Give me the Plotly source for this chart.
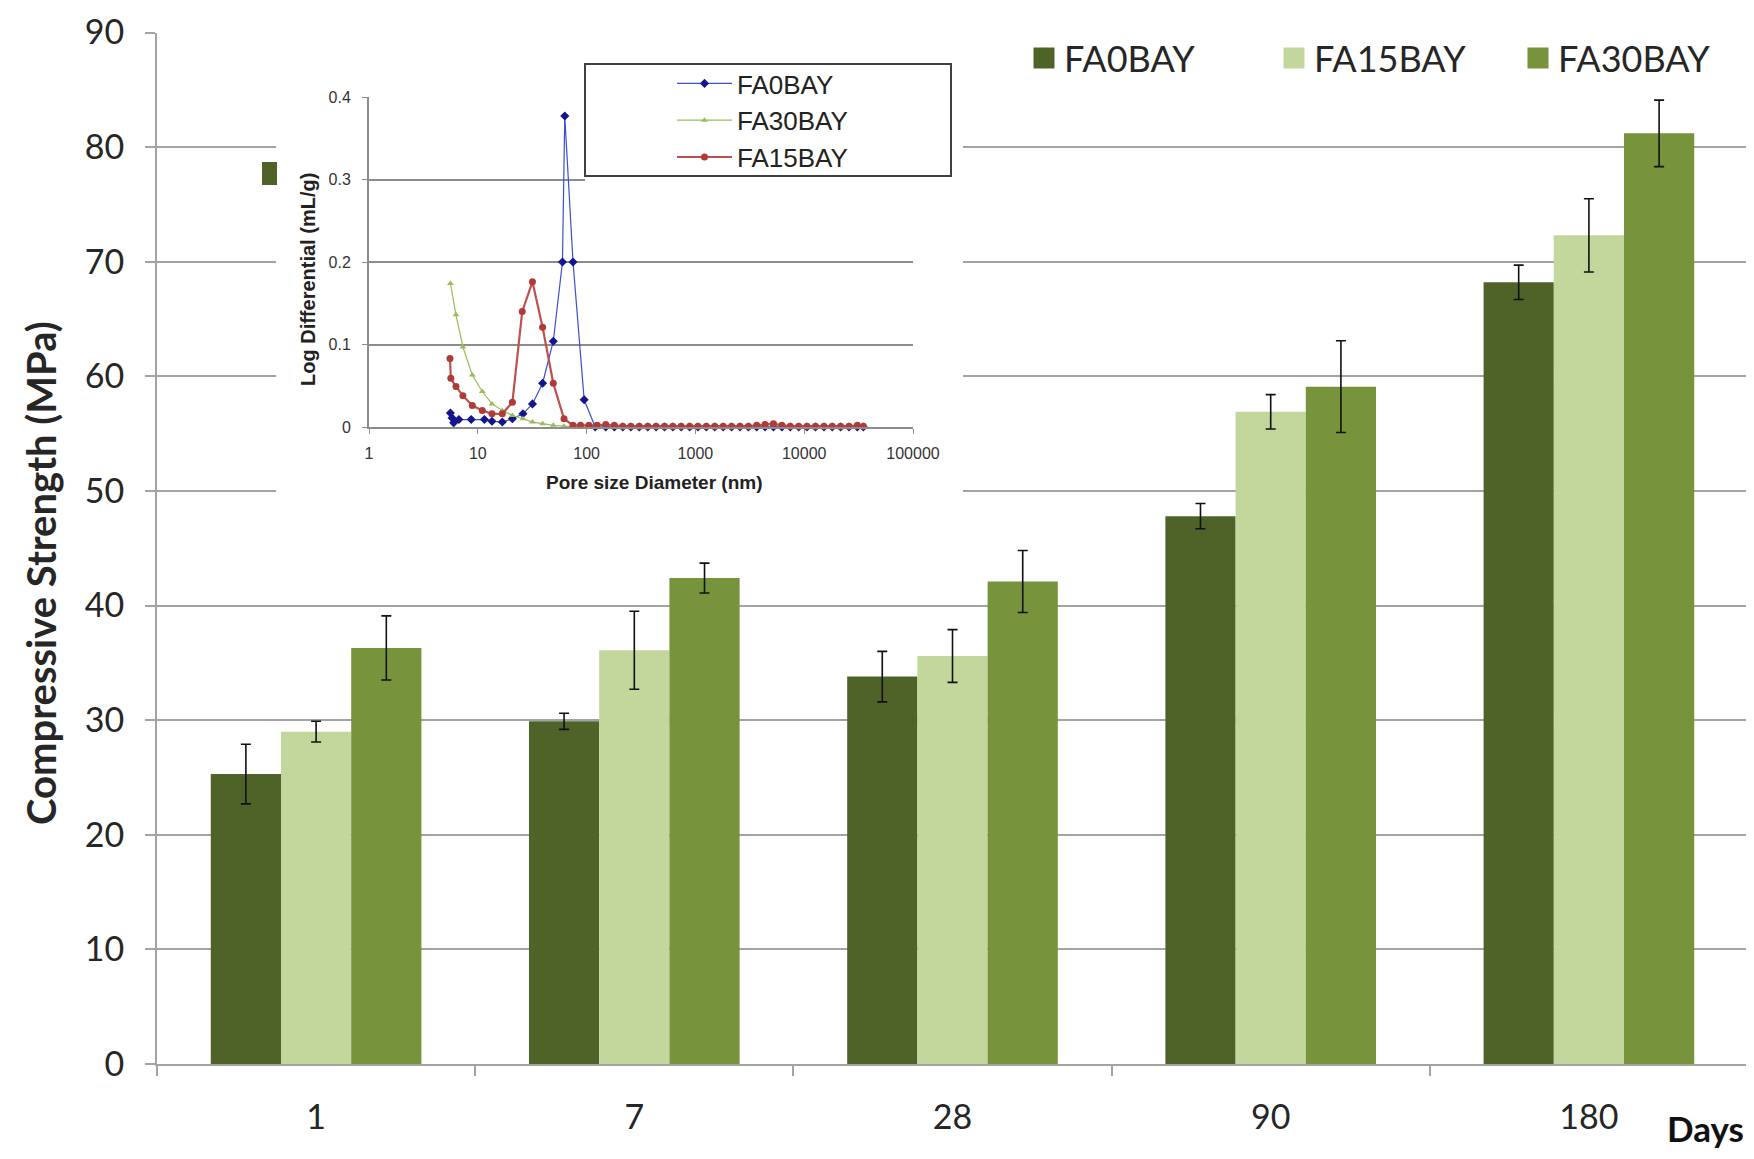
import plotly.graph_objects as go

# ---------------- data ----------------
days = ["1", "7", "28", "90", "180"]
series_names = ["FA0BAY", "FA15BAY", "FA30BAY"]
fa0 = [25.3, 29.9, 33.8, 47.8, 68.2]
fa0_err = [2.6, 0.7, 2.2, 1.1, 1.5]
fa15 = [29.0, 36.1, 35.6, 56.9, 72.3]
fa15_err = [0.9, 3.4, 2.3, 1.5, 3.2]
fa30 = [36.3, 42.4, 42.1, 59.1, 81.2]
fa30_err = [2.8, 1.3, 2.7, 4.0, 2.9]

y_ticks = [0, 10, 20, 30, 40, 50, 60, 70, 80, 90]

# inset: pore size distribution
inset_x_ticks = [1, 10, 100, 1000, 10000, 100000]
inset_x_labels = ["1", "10", "100", "1000", "10000", "100000"]
inset_y_ticks = [0, 0.1, 0.2, 0.3, 0.4]
inset_y_labels = ["0", "0.1", "0.2", "0.3", "0.4"]

tail_x = [88, 105, 125, 150, 180, 215, 255, 305, 365, 435, 520, 620, 740, 885,
          1055, 1260, 1505, 1800, 2150, 2570, 3070, 3660, 4370, 5220, 6240,
          7450, 8900, 10600, 12700, 15200, 18100, 21600, 25800, 30800, 35000]

p_fa0_x = [5.6, 5.8, 6.0, 6.7, 8.7, 11.5, 13.5, 16.8, 20.8, 26, 31.8, 39.4,
           49.4, 60, 63, 75, 95, 120, 150, 180, 215, 255, 305, 365, 435, 520,
           620, 740, 885, 1055, 1260, 1505, 1800, 2150, 2570, 3070, 3660, 4370,
           5220, 6240, 7450, 8900, 10600, 12700, 15200, 18100, 21600, 25800,
           30800, 35000]
p_fa0_y = [0.017, 0.011, 0.005, 0.009, 0.009, 0.009, 0.007, 0.006, 0.010,
           0.016, 0.028, 0.053, 0.104, 0.200, 0.377, 0.200, 0.033, 0.0, 0.0,
           0.0, 0.0, 0.0, 0.0, 0.0, 0.0, 0.0, 0.0, 0.0, 0.0, 0.0, 0.0, 0.0,
           0.0, 0.0, 0.0, 0.0, 0.0, 0.0, 0.0, 0.0, 0.0, 0.0, 0.0, 0.0, 0.0,
           0.0, 0.0, 0.0, 0.0, 0.0]

p_fa30_x = [5.6, 6.3, 7.3, 8.9, 11, 13.5, 16.8, 20.8, 26, 31.8, 39.4, 49.4,
            62, 75] + tail_x
p_fa30_y = [0.174, 0.136, 0.097, 0.063, 0.043, 0.028, 0.020, 0.014, 0.010,
            0.006, 0.004, 0.002, 0.001, 0.0,
            0.0, 0.0, 0.0, 0.0, 0.0, 0.0, 0.0, 0.0, 0.0, 0.0, 0.0, 0.0, 0.0,
            0.0, 0.0, 0.0, 0.0, 0.0, 0.0, 0.0, 0.0, 0.0, 0.0, 0.0, 0.0, 0.0,
            0.0, 0.0, 0.0, 0.0, 0.0, 0.0, 0.0, 0.0, 0.0]

p_fa15_x = [5.55, 5.65, 6.3, 7.3, 8.9, 11, 13.5, 16.8, 20.8, 25.6, 31.8, 39.4,
            49.4, 62, 75] + tail_x
p_fa15_y = [0.083, 0.059, 0.049, 0.038, 0.026, 0.020, 0.016, 0.016, 0.030,
            0.140, 0.176, 0.121, 0.053, 0.010, 0.002,
            0.002, 0.002, 0.002, 0.003, 0.002, 0.001, 0.001, 0.001, 0.001,
            0.001, 0.001, 0.001, 0.001, 0.001, 0.001, 0.001, 0.001, 0.001,
            0.001, 0.001, 0.001, 0.002, 0.003, 0.004, 0.002, 0.001, 0.001,
            0.001, 0.001, 0.001, 0.001, 0.001, 0.001, 0.002, 0.001]

# ---------------- geometry helpers ----------------
# page is 1754x1159; the html body has an 8px margin, so the figure is
# offset by 8px and sized to fit the rest of the window.
OFF = 8
W, H = 1754 - OFF, 1159 - OFF


def px(x):
    return (x - OFF) / W


def py(y):
    return 1 - (y - OFF) / H


MAIN_FONT = "Lato"
INSET_FONT = "Liberation Sans"
GRID = "#a3a3a3"
TXT = "#262626"
colors = ["#4f6228", "#c3d69b", "#77933c"]
legend_ids = ["legend", "legend3", "legend4"]
legend_x = [1024, 1274, 1518]

fig = go.Figure()

for name, vals, errs, col, lg in zip(series_names, [fa0, fa15, fa30],
                                     [fa0_err, fa15_err, fa30_err], colors,
                                     legend_ids):
    fig.add_trace(go.Bar(
        x=days, y=vals, name=name, marker=dict(color=col, line=dict(width=0)),
        error_y=dict(type="data", array=errs, visible=True, color="#111111",
                     thickness=1.6, width=5),
        xaxis="x", yaxis="y", showlegend=False, legendgroup=name))
    # legend entry (square swatch) for this series
    fig.add_trace(go.Scatter(
        x=[None], y=[None], name=name, mode="markers",
        marker=dict(symbol="square", size=16, color=col,
                    line=dict(color=col, width=5)),
        xaxis="x", yaxis="y", legend=lg, legendgroup=name,
        hoverinfo="skip"))

# cover subplot (white background hiding the main gridlines behind the inset)
fig.add_trace(go.Scatter(x=[None], y=[None], xaxis="x2", yaxis="y2",
                         showlegend=False, hoverinfo="skip"))

inset_specs = [
    ("FA0BAY", p_fa0_x, p_fa0_y, "#3a4fd0", 1.2, "diamond", 7, "#14148c"),
    ("FA30BAY", p_fa30_x, p_fa30_y, "#9bbb59", 1.2, "triangle-up", 6, "#9bbb59"),
    ("FA15BAY", p_fa15_x, p_fa15_y, "#c0504d", 2.2, "circle", 7, "#b03a37"),
]
for i, (name, xs, ys, lc, lw, sym, ms, mc) in enumerate(inset_specs):
    fig.add_trace(go.Scatter(
        x=xs, y=ys, name=name, mode="lines+markers",
        line=dict(color=lc, width=lw),
        marker=dict(symbol=sym, size=ms, color=mc, line=dict(width=0)),
        xaxis="x3", yaxis="y3", legend="legend2", legendgroup="g%d" % i,
        cliponaxis=False))

main_legend_style = dict(orientation="h", yanchor="middle", xanchor="left",
                         bgcolor="rgba(0,0,0,0)", itemwidth=30,
                         font=dict(family=MAIN_FONT, size=36, color=TXT))

fig.update_layout(
    width=W, height=H,
    margin=dict(l=0, r=0, t=0, b=0, autoexpand=False),
    paper_bgcolor="white", plot_bgcolor="white",
    barmode="group", bargap=0.338, bargroupgap=0,
    font=dict(family=MAIN_FONT, color=TXT),
    xaxis=dict(domain=[px(157), px(1748)], type="category", anchor="y",
               automargin=False,
               showgrid=False, showline=True, linecolor=GRID, linewidth=2,
               ticks="outside", tickson="boundaries", ticklen=10,
               tickcolor=GRID, tickwidth=2, ticklabelstandoff=22,
               tickfont=dict(family=MAIN_FONT, size=34, color=TXT)),
    yaxis=dict(domain=[py(1064), py(32.5)], range=[0, 90], anchor="x",
               automargin=False,
               tickvals=y_ticks, showgrid=True, gridcolor=GRID, gridwidth=2,
               zeroline=False, showline=True, linecolor=GRID, linewidth=2,
               ticks="outside", ticklen=10, tickcolor=GRID, tickwidth=2,
               ticklabelstandoff=14,
               tickfont=dict(family=MAIN_FONT, size=34, color=TXT)),
    xaxis2=dict(domain=[px(276), px(963)], visible=False, range=[0, 1],
                anchor="y2"),
    yaxis2=dict(domain=[py(498), py(45)], visible=False, range=[0, 1],
                anchor="x2"),
    xaxis3=dict(domain=[px(369), px(913)], type="log", range=[0, 5],
                anchor="y3", automargin=False,
                tickvals=inset_x_ticks, ticktext=inset_x_labels,
                showgrid=False, showline=True, linecolor="#8c8c8c",
                linewidth=2, ticks="outside", ticklen=5, tickcolor="#8c8c8c",
                ticklabelstandoff=6,
                tickfont=dict(family=INSET_FONT, size=16, color="#333333")),
    yaxis3=dict(domain=[py(427), py(97)], range=[0, 0.4], anchor="x3",
                automargin=False,
                tickvals=inset_y_ticks, ticktext=inset_y_labels,
                showgrid=True, gridcolor="#8c8c8c", gridwidth=2,
                zeroline=False, showline=True, linecolor="#8c8c8c",
                linewidth=2, ticks="outside", ticklen=5, tickcolor="#8c8c8c",
                ticklabelstandoff=8,
                tickfont=dict(family=INSET_FONT, size=16, color="#333333")),
    legend=dict(x=px(legend_x[0]), y=py(58), **main_legend_style),
    legend3=dict(x=px(legend_x[1]), y=py(58), **main_legend_style),
    legend4=dict(x=px(legend_x[2]), y=py(58), **main_legend_style),
    legend2=dict(orientation="v", x=px(672), y=py(60), xanchor="left",
                 yanchor="top", bgcolor="rgba(0,0,0,0)", itemwidth=55,
                 tracegroupgap=0,
                 font=dict(family=INSET_FONT, size=26, color="#222222")),
    showlegend=True,
)

fig.update_layout(
    shapes=[
        dict(type="rect", xref="paper", yref="paper", layer="above",
             x0=px(585), x1=px(951), y0=py(186), y1=py(64),
             fillcolor="white", line=dict(width=0)),
        dict(type="rect", xref="paper", yref="paper", layer="above",
             x0=px(585), x1=px(951), y0=py(176), y1=py(64),
             fillcolor="rgba(0,0,0,0)", line=dict(color="#404040", width=2)),
        dict(type="rect", xref="paper", yref="paper", layer="above",
             x0=px(262), x1=px(277), y0=py(185), y1=py(162),
             fillcolor=colors[0], line=dict(width=0)),
    ],
    annotations=[
        dict(text="<b>Compressive Strength (MPa)</b>", xref="paper",
             yref="paper", x=px(41), y=py(573), textangle=-90,
             xanchor="center", yanchor="middle",
             showarrow=False, font=dict(family=MAIN_FONT, size=40, color=TXT)),
        dict(text="<b>Days</b>", xref="paper", yref="paper", x=px(1746),
             y=py(1128), xanchor="right", yanchor="middle", showarrow=False,
             font=dict(family=MAIN_FONT, size=35, color="#111111")),
        dict(text="<b>Log Differential (mL/g)</b>", xref="paper",
             yref="paper", x=px(308), y=py(280), textangle=-90,
             xanchor="center", yanchor="middle",
             showarrow=False,
             font=dict(family=INSET_FONT, size=20, color="#222222")),
        dict(text="<b>Pore size Diameter (nm)</b>", xref="paper",
             yref="paper", x=px(654), y=py(483), xanchor="center",
             yanchor="middle", showarrow=False,
             font=dict(family=INSET_FONT, size=19, color="#222222")),
    ],
)

fig.write_html("out.html")
